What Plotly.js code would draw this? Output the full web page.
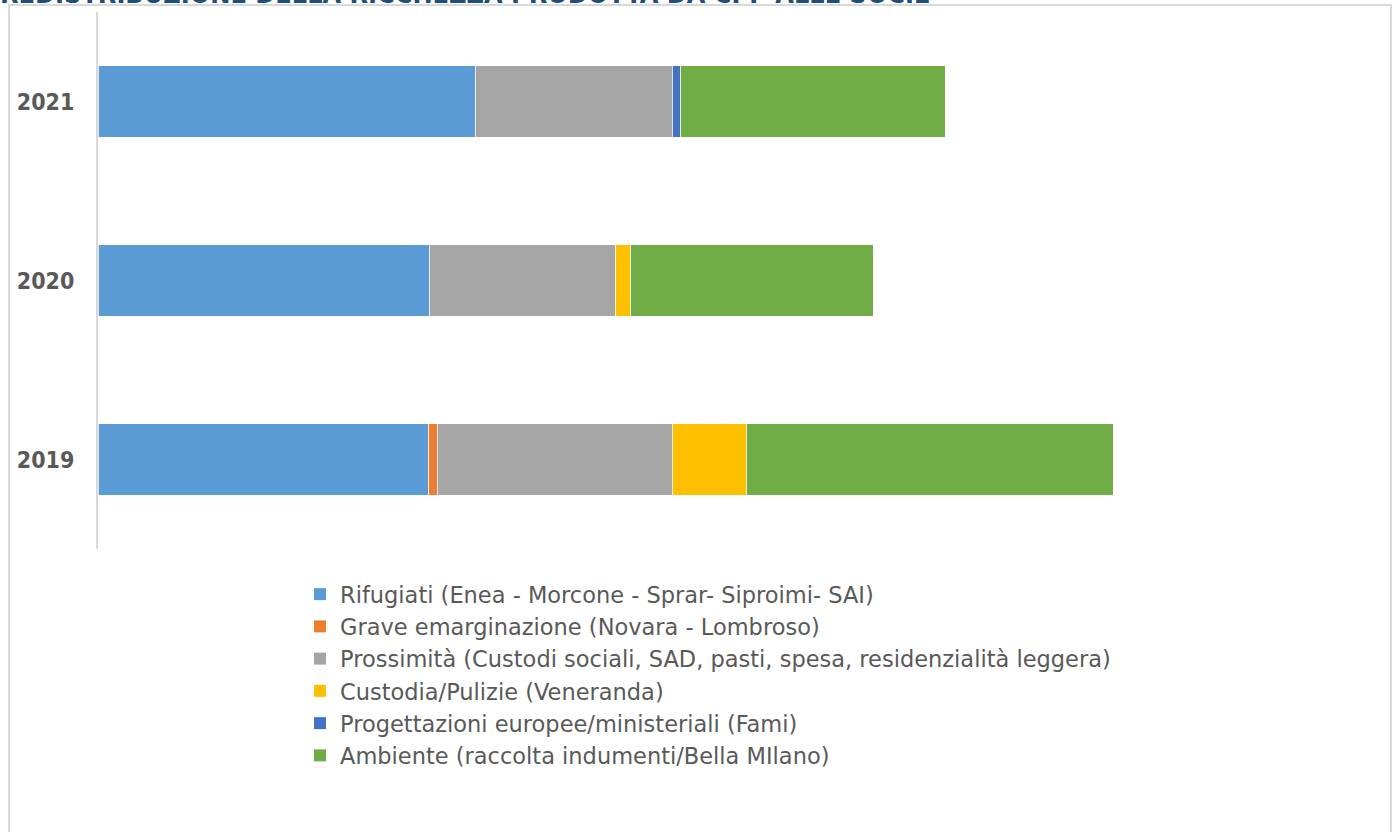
<!DOCTYPE html>
<html>
<head>
<meta charset="utf-8">
<script src="https://cdn.plot.ly/plotly-3.0.1.min.js"></script>
<style>
  html, body { margin: 0; padding: 0; background: #ffffff; }
  #chart { width: 1395px; height: 832px; }
</style>
</head>
<body>
<div id="chart"></div>
<script>
// ---- data ----
const years = ['2019', '2020', '2021'];
const seriesNames = [
  'Rifugiati (Enea - Morcone - Sprar- Siproimi- SAI)',
  'Grave emarginazione (Novara - Lombroso)',
  'Prossimità (Custodi sociali, SAD, pasti, spesa, residenzialità leggera)',
  'Custodia/Pulizie (Veneranda)',
  'Progettazioni europee/ministeriali (Fami)',
  'Ambiente (raccolta indumenti/Bella MIlano)'
];
const rifugiati     = [330, 331, 377];
const grave         = [9, 0, 0];
const prossimita    = [235, 186, 197];
const custodia      = [74, 15, 0];
const progettazioni = [0, 0, 8];
const ambiente      = [367, 243, 265];
const seriesColors = ['#5B9BD5', '#ED7D31', '#A5A5A5', '#FFC000', '#4472C4', '#70AD47'];
const titleText = 'REDISTRIBUZIONE DELLA RICCHEZZA PRODOTTA DA CPP ALLE SOCIE';

const seriesValues = [rifugiati, grave, prossimita, custodia, progettazioni, ambiente];

const traces = [];
seriesValues.forEach((vals, i) => {
  traces.push({
    type: 'bar',
    orientation: 'h',
    name: seriesNames[i],
    y: years,
    x: vals,
    marker: { color: seriesColors[i], line: { color: '#ffffff', width: 0.8 } },
    showlegend: false,
    hoverinfo: 'x+name'
  });
});
// legend entries with small square keys
seriesValues.forEach((vals, i) => {
  traces.push({
    type: 'scatter',
    mode: 'markers',
    name: seriesNames[i],
    x: [null],
    y: [null],
    marker: { symbol: 'square', size: 12, color: seriesColors[i] },
    showlegend: true,
    hoverinfo: 'skip'
  });
});

// geometry helpers (pixels -> paper)
const W = 1395, H = 832;
const mL = 98, mR = 55, mT = 12, mB = 283;
const plotW = W - mL - mR, plotH = H - mT - mB;
const px = x => (x - mL) / plotW;
const py = y => (H - mB - y) / plotH;

const layout = {
  width: W,
  height: H,
  margin: { l: mL, r: mR, t: mT, b: mB, pad: 0 },
  paper_bgcolor: '#ffffff',
  plot_bgcolor: '#ffffff',
  barmode: 'stack',
  bargap: 0.603,
  title: {
    text: '<b>' + titleText + '</b>',
    font: { family: 'DejaVu Sans Condensed, DejaVu Sans, sans-serif', size: 26.8, color: '#1F4E79' },
    xref: 'container', x: 0, xanchor: 'left',
    yref: 'container', y: 1 - 3 / H, yanchor: 'bottom',
    pad: { l: 0, t: 0, b: 0, r: 0 }
  },
  xaxis: {
    visible: false,
    range: [0, plotW],
    showgrid: false,
    zeroline: false
  },
  yaxis: {
    type: 'category',
    categoryorder: 'array',
    categoryarray: years,
    showline: true,
    linecolor: '#d9d9d9',
    linewidth: 2,
    showgrid: false,
    zeroline: false,
    ticks: '',
    ticklabelstandoff: 17,
    tickfont: { family: 'Liberation Sans Narrow, DejaVu Sans Condensed, Arial Narrow, sans-serif', size: 23, color: '#595959', weight: 'bold' }
  },
  legend: {
    orientation: 'v',
    traceorder: 'normal',
    x: px(300), xanchor: 'left',
    y: py(573), yanchor: 'top',
    font: { family: 'DejaVu Sans, sans-serif', size: 22.5, color: '#595959' },
    bgcolor: 'rgba(0,0,0,0)',
    borderwidth: 0,
    itemclick: false
  },
  shapes: [
    {
      type: 'rect', xref: 'paper', yref: 'paper',
      x0: px(9), x1: px(1391), y0: py(900), y1: py(5),
      line: { color: '#d9d9d9', width: 2 },
      fillcolor: 'rgba(0,0,0,0)',
      layer: 'below'
    }
  ],
  showlegend: true
};

Plotly.newPlot('chart', traces, layout, { displayModeBar: false, staticPlot: true });
</script>
</body>
</html>
